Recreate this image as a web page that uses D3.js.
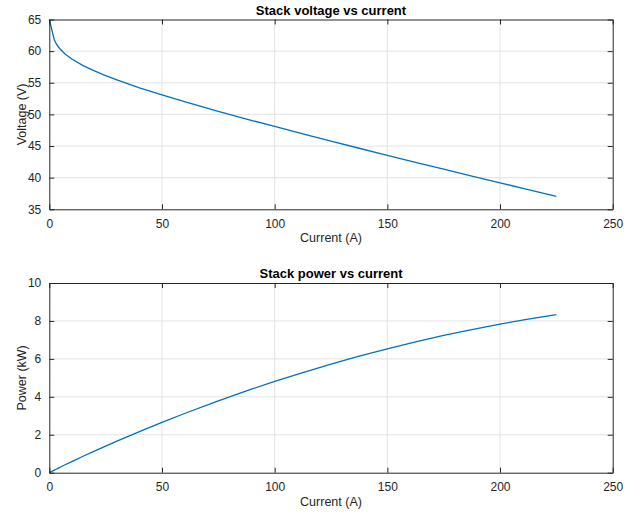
<!DOCTYPE html>
<html>
<head>
<meta charset="utf-8">
<script src="https://cdn.jsdelivr.net/npm/d3@7"></script>
<style>
  body { margin: 0; background: #fff; }
  svg { display: block; font-family: "Liberation Sans", Arial, Helvetica, sans-serif; }
</style>
</head>
<body>
<script>
// data
const current = [0, 2.2, 3, 4, 5, 7, 10, 15, 20, 25, 30, 40, 50, 60, 75, 90, 100, 112.5, 125, 137.5, 150, 162.5, 175, 187.5, 200, 212.5, 225];
const voltage = [65, 61.8, 61.22, 60.69, 60.25, 59.56, 58.76, 57.72, 56.88, 56.13, 55.45, 54.21, 53.08, 52.01, 50.49, 49.03, 48.1, 46.92, 45.77, 44.65, 43.53, 42.43, 41.34, 40.25, 39.18, 38.1, 37.04];
const power = [0, 0.136, 0.184, 0.243, 0.301, 0.417, 0.588, 0.866, 1.138, 1.403, 1.664, 2.168, 2.654, 3.121, 3.787, 4.413, 4.81, 5.278, 5.721, 6.139, 6.53, 6.895, 7.235, 7.548, 7.836, 8.097, 8.334];

const xTicks = [0, 50, 100, 150, 200, 250];
const vTicks = [35, 40, 45, 50, 55, 60, 65];
const pTicks = [0, 2, 4, 6, 8, 10];

const W = 641, H = 514;
const left = 49.3, right = 612.7;

const svg = d3.select("body").append("svg")
    .attr("width", W)
    .attr("height", H);

const x = d3.scaleLinear().domain([0, 250]).range([left, right]);

function panel(top, bottom, yDomain, yTicks, yVals, title, ylabel) {
    const y = d3.scaleLinear().domain(yDomain).range([bottom, top]);
    const g = svg.append("g");

    // grid
    g.selectAll(".gx").data(xTicks.slice(1, -1)).enter().append("line")
        .attr("x1", d => x(d)).attr("x2", d => x(d))
        .attr("y1", top).attr("y2", bottom)
        .attr("stroke", "#e3e3e3").attr("stroke-width", 1);
    g.selectAll(".gy").data(yTicks.slice(1, -1)).enter().append("line")
        .attr("x1", left).attr("x2", right)
        .attr("y1", d => y(d)).attr("y2", d => y(d))
        .attr("stroke", "#e3e3e3").attr("stroke-width", 1);

    // curve
    const pts = current.map((c, i) => [c, yVals[i]]);
    g.append("path")
        .datum(pts)
        .attr("fill", "none")
        .attr("stroke", "#0072BD")
        .attr("stroke-width", 1.3)
        .attr("d", d3.line().x(d => x(d[0])).y(d => y(d[1])));

    // axes (inside ticks, box)
    const tk = 5;
    g.append("g").attr("transform", `translate(0,${bottom})`)
        .call(d3.axisBottom(x).tickValues(xTicks).tickSizeInner(-tk).tickSizeOuter(0).tickPadding(10));
    g.append("g").attr("transform", `translate(0,${top})`)
        .call(d3.axisTop(x).tickValues(xTicks).tickSizeInner(-tk).tickSizeOuter(0).tickFormat(""));
    g.append("g").attr("transform", `translate(${left},0)`)
        .call(d3.axisLeft(y).tickValues(yTicks).tickSizeInner(-tk).tickSizeOuter(0).tickPadding(8));
    g.append("g").attr("transform", `translate(${right},0)`)
        .call(d3.axisRight(y).tickValues(yTicks).tickSizeInner(-tk).tickSizeOuter(0).tickFormat(""));

    g.selectAll(".domain").attr("stroke", "#262626").attr("stroke-width", 1);
    g.selectAll(".tick line").attr("stroke", "#262626");
    g.selectAll(".tick text").attr("fill", "#262626").style("font-size", "12px");

    // title
    svg.append("text")
        .attr("x", (left + right) / 2).attr("y", top - 5)
        .attr("text-anchor", "middle")
        .style("font-size", "13px").style("font-weight", "bold")
        .attr("fill", "#000")
        .text(title);

    // x label
    svg.append("text")
        .attr("x", (left + right) / 2).attr("y", bottom + 33)
        .attr("text-anchor", "middle")
        .style("font-size", "12.5px")
        .attr("fill", "#262626")
        .text("Current (A)");

    // y label
    svg.append("text")
        .attr("transform", `translate(26,${(top + bottom) / 2}) rotate(-90)`)
        .attr("text-anchor", "middle")
        .style("font-size", "12.5px")
        .attr("fill", "#262626")
        .text(ylabel);
}

panel(19.5, 209.3, [35, 65], vTicks, voltage, "Stack voltage vs current", "Voltage (V)");
panel(283, 472.7, [0, 10], pTicks, power, "Stack power vs current", "Power (kW)");
</script>
</body>
</html>
